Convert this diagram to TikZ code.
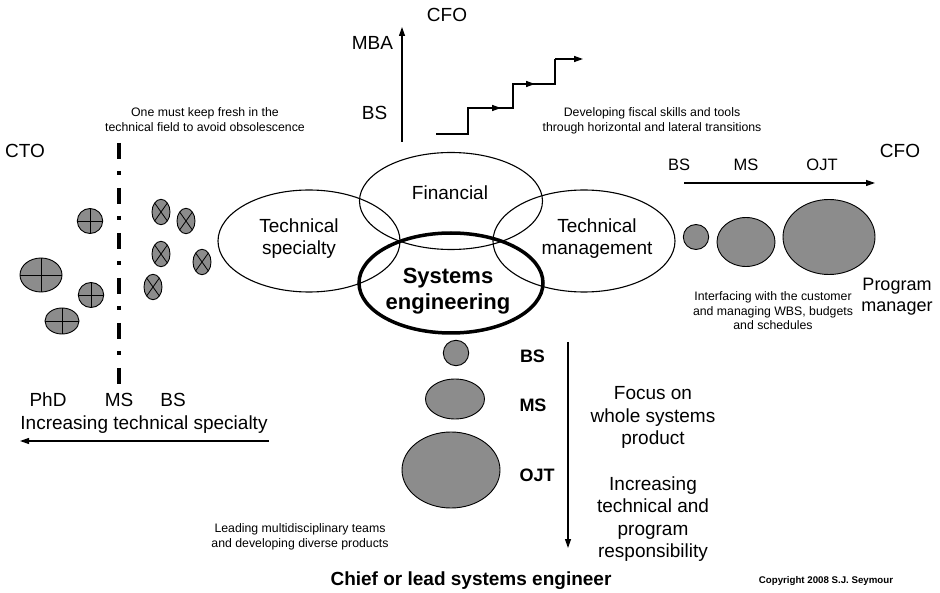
\documentclass[tikz,border=0pt]{standalone}
\usepackage{fontspec}
\setmainfont{Liberation Sans}
\usetikzlibrary{arrows.meta,shapes.geometric}
\definecolor{ellgray}{RGB}{140,140,140}
\begin{document}
\begin{tikzpicture}[x=1pt,y=-1pt,
  lbl/.style={font=\fontsize{19}{22.5}\selectfont, inner sep=0, align=center},
  sm/.style={font=\fontsize{12.3}{14.5}\selectfont, inner sep=0, align=center},
  blbl/.style={font=\bfseries\fontsize{18}{21}\selectfont, inner sep=0},
  oval/.style={ellipse, draw, line width=1.1pt, inner sep=0, outer sep=0},
  gcirc/.style={ellipse, draw, fill=ellgray, line width=0.9pt, inner sep=0, outer sep=0},
  crossl/.style={line width=0.8pt},
  arr/.style={line width=1.2pt, -{Triangle[length=9pt,width=6pt]}},
  stairline/.style={line width=1.4pt}
]
\useasboundingbox (0,0) rectangle (940,593);

% ---- central ovals
\node[oval, minimum width=182pt, minimum height=102pt] (tspec) at (309,241) {};
\node[oval, minimum width=183pt, minimum height=97pt] (fin) at (451,201) {};
\node[oval, minimum width=182pt, minimum height=102pt] (tmgmt) at (584,241) {};
\node[oval, line width=3.5pt, minimum width=184pt, minimum height=100pt] (se) at (451,283) {};

\node[lbl, anchor=base] (tspecT) at (299,255) {Technical\\specialty};
\node[lbl, anchor=base] (finT) at (450,200) {Financial};
\node[lbl, anchor=base] (tmgmtT) at (597,255) {Technical\\management};
\node[lbl, anchor=base, font=\bfseries\fontsize{22}{26}\selectfont] (seT) at (448,310) {Systems\\engineering};

% ---- top: CFO vertical path
\coordinate (fa0) at (402,142);
\coordinate (fa1) at (402,27);
\draw[arr] (fa0) -- (fa1);
\node[lbl, anchor=base] (cfoTop) at (447,22) {CFO};
\node[lbl, anchor=base] (mba) at (372.5,50) {MBA};
\node[lbl, anchor=base] (bsTop) at (374.5,120) {BS};

% staircase
\coordinate (st0) at (436,134);
\coordinate (st1) at (468,108);
\coordinate (st2) at (513,84);
\coordinate (st3) at (555,59);
\coordinate (st4) at (583,59);
\coordinate (m1) at (501,108);
\coordinate (m2) at (535,84);
\draw[stairline] (st0) -| (st1) -| (st2) -| (st3);
\draw[arr, line width=1.4pt] (st3) -- (st4);
\draw[arr, line width=1.4pt] (st1) -- (m1);
\draw[arr, line width=1.4pt] (st2) -- (m2);
\node[sm, anchor=base] (fiscal) at (652,131.5) {Developing fiscal skills and tools\\through horizontal and lateral transitions};

% ---- left: technical specialty
\node[lbl, anchor=base] (cto) at (25,158) {CTO};
\node[sm, anchor=base] (fresh) at (205,131.5) {One must keep fresh in the\\technical field to avoid obsolescence};
\coordinate (dd0) at (119,143);
\coordinate (dd1) at (119,385);
\draw[line width=4pt, dash pattern=on 16pt off 12pt on 4pt off 13pt] (dd0) -- (dd1);

\node[gcirc, minimum width=25.4pt, minimum height=25pt] (p1) at (90,221) {};
\node[gcirc, minimum width=42pt, minimum height=34pt] (p2) at (41,275) {};
\node[gcirc, minimum width=25.4pt, minimum height=25pt] (p3) at (91,295) {};
\node[gcirc, minimum width=34pt, minimum height=26pt] (p4) at (62,321) {};
\foreach \n in {p1,p2,p3,p4}{
  \draw[crossl] (\n.north) -- (\n.south) (\n.east) -- (\n.west);
}
\node[gcirc, minimum width=18pt, minimum height=25.4pt] (x1) at (161,212) {};
\node[gcirc, minimum width=18pt, minimum height=25.4pt] (x2) at (186,221) {};
\node[gcirc, minimum width=18pt, minimum height=25.4pt] (x3) at (161,254) {};
\node[gcirc, minimum width=18pt, minimum height=25.4pt] (x4) at (202,262) {};
\node[gcirc, minimum width=18pt, minimum height=25.4pt] (x5) at (153,287) {};
\foreach \n in {x1,x2,x3,x4,x5}{
  \draw[crossl] (\n.north east) -- (\n.south west) (\n.north west) -- (\n.south east);
}

\node[lbl, anchor=base] (phd) at (48,407) {PhD};
\node[lbl, anchor=base] (msL) at (119,407) {MS};
\node[lbl, anchor=base] (bsL) at (173,407) {BS};
\node[lbl, anchor=base] (incspec) at (144,430) {Increasing technical specialty};
\coordinate (la0) at (269,441);
\coordinate (la1) at (20,441);
\draw[arr] (la0) -- (la1);

% ---- right: technical management
\node[lbl, anchor=base] (cfoR) at (900,158) {CFO};
\node[lbl, anchor=base, font=\fontsize{16.5}{19}\selectfont] (bsR) at (679,171) {BS};
\node[lbl, anchor=base, font=\fontsize{16.5}{19}\selectfont] (msR) at (746,171) {MS};
\node[lbl, anchor=base, font=\fontsize{16.5}{19}\selectfont] (ojtR) at (822,171) {OJT};
\coordinate (ra0) at (684,183);
\coordinate (ra1) at (875,183);
\draw[arr] (ra0) -- (ra1);
\node[gcirc, minimum width=25.4pt, minimum height=25pt] (r1) at (696,237) {};
\node[gcirc, minimum width=58pt, minimum height=49pt] (r2) at (746,242) {};
\node[gcirc, minimum width=92pt, minimum height=75pt] (r3) at (829,237) {};
\node[lbl, anchor=base, font=\fontsize{18}{20.5}\selectfont] (pm) at (897,311.5) {Program\\manager};
\node[sm, anchor=base] (iface) at (773,330) {Interfacing with the customer\\and managing WBS, budgets\\and schedules};

% ---- bottom: systems engineering
\node[gcirc, minimum width=25.4pt, minimum height=25.4pt] (b1) at (456,353) {};
\node[gcirc, minimum width=59pt, minimum height=40pt] (b2) at (455,399) {};
\node[gcirc, minimum width=98pt, minimum height=76pt] (b3) at (451,470) {};
\node[blbl, anchor=base] (bsB) at (532.5,363) {BS};
\node[blbl, anchor=base] (msB) at (533,412) {MS};
\node[blbl, anchor=base] (ojtB) at (537,482) {OJT};
\coordinate (ba0) at (568,342);
\coordinate (ba1) at (568,548);
\draw[arr] (ba0) -- (ba1);
\node[lbl, anchor=base] (focus) at (653,445) {Focus on\\whole systems\\product};
\node[lbl, anchor=base] (incresp) at (653,557.5) {Increasing\\technical and\\program\\responsibility};
\node[sm, anchor=base] (leading) at (300,547) {Leading multidisciplinary teams\\and developing diverse products};
\node[blbl, anchor=base, font=\bfseries\fontsize{19}{22}\selectfont] (chief) at (471,585) {Chief or lead systems engineer};
\node[anchor=base, inner sep=0, font=\bfseries\fontsize{9.7}{11}\selectfont] (copy) at (826,583.5) {Copyright 2008 S.J. Seymour};
\end{tikzpicture}
\end{document}
